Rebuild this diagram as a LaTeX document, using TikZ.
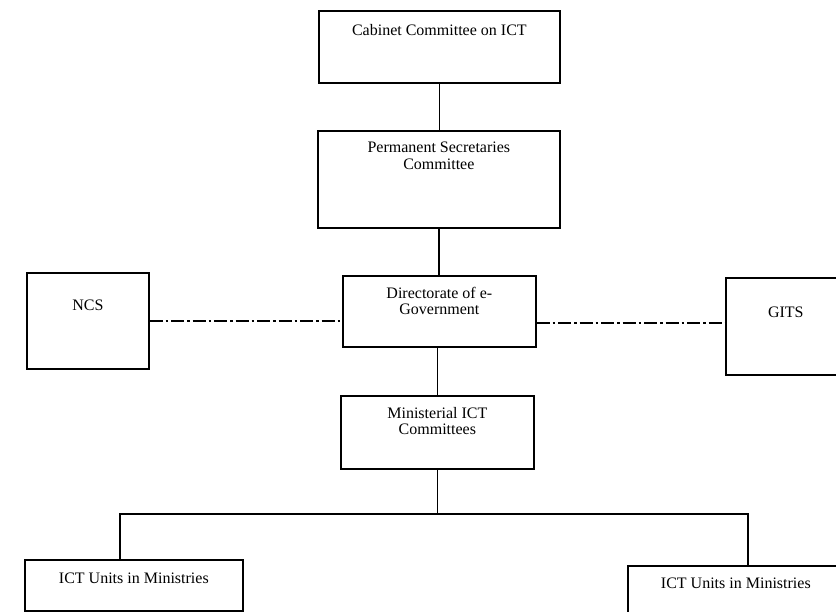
\documentclass[tikz,border=0pt]{standalone}
\usepackage{fontspec}
\setmainfont{Liberation Serif}
\begin{document}
\begin{tikzpicture}[x=1pt,y=-1pt,
  box/.style={draw=black, line width=1.7pt, fill=white, rectangle, inner sep=0pt, anchor=north west},
  lab/.style={anchor=center, align=center, font=\fontsize{16}{16.5}\selectfont},
  conn/.style={draw=black, line width=1.7pt},
  dd/.style={draw=black, line width=1.6pt, dash pattern=on 13pt off 3pt on 2.5pt off 3pt}]
\fill[white] (0,0) rectangle (836,612);
\useasboundingbox (0,0) rectangle (836,612);
\clip (0,0) rectangle (836,612);
% boxes
\node[box, minimum width=241pt, minimum height=72pt,
      label={[lab,yshift=-20pt]north:Cabinet Committee on ICT}] (cab) at (318,10) {};
\node[box, minimum width=242pt, minimum height=97pt,
      label={[lab,yshift=-26pt]north:Permanent Secretaries\\Committee}] (perm) at (317,130) {};
\node[box, minimum width=193pt, minimum height=71pt,
      label={[lab,yshift=-26pt]north:Directorate of e-\\Government}] (dir) at (342,275) {};
\node[box, minimum width=122pt, minimum height=96pt,
      label={[lab,yshift=-33pt]north:NCS}] (ncs) at (26,272) {};
\node[box, minimum width=120pt, minimum height=97pt,
      label={[lab,yshift=-35pt]north:GITS}] (gits) at (725,277) {};
\node[box, minimum width=193pt, minimum height=73pt,
      label={[lab,yshift=-26pt]north:Ministerial ICT\\Committees}] (min) at (340,395) {};
\node[box, minimum width=218pt, minimum height=51pt,
      label={[lab,yshift=-19pt]north:ICT Units in Ministries}] (ictL) at (24,559) {};
\node[box, minimum width=216pt, minimum height=60pt,
      label={[lab,yshift=-18pt]north:ICT Units in Ministries}] (ictR) at (627,565) {};
% connectors
\draw[conn] (cab.south) -- (cab.south |- perm.north);
\draw[conn] (perm.south) -- (perm.south |- dir.north);
\draw[conn] (min.north) -- (min.north |- dir.south);
\draw[dd] (ncs.east) -- (ncs.east -| dir.west);
\draw[dd] (dir.east |- 0,323) -- (gits.west |- 0,323);
\coordinate (hl) at (120,514);
\coordinate (hr) at (748,514);
\coordinate (j) at (min.south |- hl);
\draw[conn] (min.south) -- (j);
\draw[conn] (ictL.north -| hl) -- (hl) -- (hr) -- (ictR.north -| hr);
\end{tikzpicture}
\end{document}
